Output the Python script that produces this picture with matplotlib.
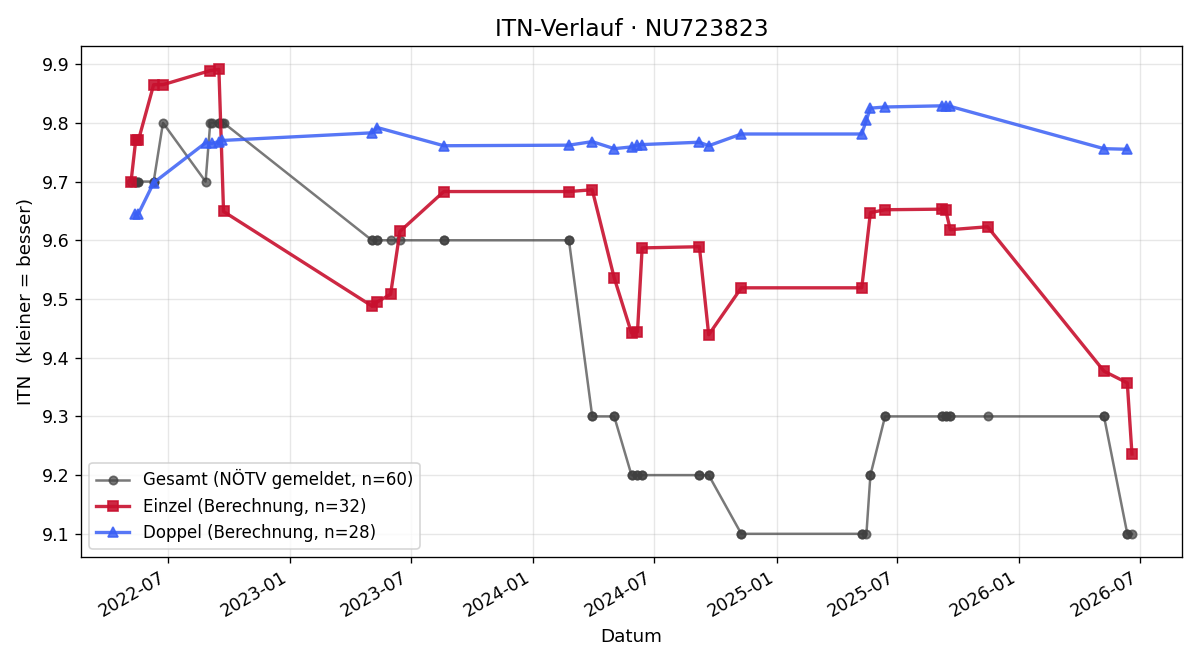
import numpy as np
import pandas as pd
import matplotlib
matplotlib.use("Agg")
import matplotlib.pyplot as plt
import matplotlib.dates as mdates

# Einzel (calculated singles rating)
einzel_dates = [
    "2022-05-07", "2022-05-14", "2022-05-18", "2022-06-10", "2022-06-24",
    "2022-09-03", "2022-09-16", "2022-09-23",
    "2023-05-04", "2023-05-12", "2023-06-01", "2023-06-15", "2023-08-20",
    "2024-02-24", "2024-03-30", "2024-05-02", "2024-05-28", "2024-06-06",
    "2024-06-13", "2024-09-07", "2024-09-21", "2024-11-09",
    "2025-05-09", "2025-05-22", "2025-06-13", "2025-09-06", "2025-09-12",
    "2025-09-19", "2025-11-14",
    "2026-05-08", "2026-06-12", "2026-06-19",
]
einzel_itn = [
    9.700, 9.770, 9.770, 9.865, 9.865,
    9.889, 9.891, 9.649,
    9.488, 9.495, 9.508, 9.615, 9.683,
    9.683, 9.686, 9.536, 9.442, 9.444,
    9.587, 9.589, 9.439, 9.519,
    9.519, 9.647, 9.652, 9.653, 9.652,
    9.618, 9.623,
    9.377, 9.357, 9.236,
]

# Doppel (calculated doubles rating)
doppel_dates = [
    "2022-05-13", "2022-05-18", "2022-06-10", "2022-08-27", "2022-09-05",
    "2022-09-16", "2022-09-21",
    "2023-05-04", "2023-05-12", "2023-08-20",
    "2024-02-24", "2024-03-30", "2024-05-02", "2024-05-28", "2024-06-06",
    "2024-06-13", "2024-09-07", "2024-09-21", "2024-11-09",
    "2025-05-09", "2025-05-16", "2025-05-22", "2025-06-13", "2025-09-06",
    "2025-09-12", "2025-09-19",
    "2026-05-08", "2026-06-12",
]
doppel_itn = [
    9.645, 9.645, 9.698, 9.766, 9.765,
    9.768, 9.770,
    9.783, 9.792, 9.761,
    9.762, 9.768, 9.756, 9.759, 9.762,
    9.763, 9.767, 9.761, 9.781,
    9.781, 9.805, 9.825, 9.827, 9.829,
    9.829, 9.828,
    9.756, 9.755,
]

# Gesamt (reported by NÖTV)
gesamt_dates = [
    "2022-05-07", "2022-05-13", "2022-05-14", "2022-05-18", "2022-05-18",
    "2022-06-10", "2022-06-10", "2022-06-24", "2022-08-27", "2022-09-03",
    "2022-09-05", "2022-09-16", "2022-09-16", "2022-09-21", "2022-09-23",
    "2023-05-04", "2023-05-04", "2023-05-12", "2023-05-12", "2023-06-01",
    "2023-06-15", "2023-08-20", "2023-08-20",
    "2024-02-24", "2024-02-24", "2024-03-30", "2024-03-30", "2024-05-02",
    "2024-05-02", "2024-05-28", "2024-05-28", "2024-06-06", "2024-06-06",
    "2024-06-13", "2024-06-13", "2024-09-07", "2024-09-07", "2024-09-21",
    "2024-09-21", "2024-11-09", "2024-11-09",
    "2025-05-09", "2025-05-09", "2025-05-16", "2025-05-22", "2025-05-22",
    "2025-06-13", "2025-06-13", "2025-09-06", "2025-09-06", "2025-09-12",
    "2025-09-12", "2025-09-19", "2025-09-19", "2025-11-14",
    "2026-05-08", "2026-05-08", "2026-06-12", "2026-06-12", "2026-06-19",
]
gesamt_itn = [
    9.7, 9.7, 9.7, 9.7, 9.7,
    9.7, 9.7, 9.8, 9.7, 9.8,
    9.8, 9.8, 9.8, 9.8, 9.8,
    9.6, 9.6, 9.6, 9.6, 9.6,
    9.6, 9.6, 9.6,
    9.6, 9.6, 9.3, 9.3, 9.3,
    9.3, 9.2, 9.2, 9.2, 9.2,
    9.2, 9.2, 9.2, 9.2, 9.2,
    9.2, 9.1, 9.1,
    9.1, 9.1, 9.1, 9.2, 9.2,
    9.3, 9.3, 9.3, 9.3, 9.3,
    9.3, 9.3, 9.3, 9.3,
    9.3, 9.3, 9.1, 9.1, 9.1,
]

fig, ax = plt.subplots(figsize=(10, 5.5), dpi=120)

ax.plot(pd.to_datetime(gesamt_dates), gesamt_itn, "-o", color="0.25", alpha=0.7,
        lw=1.5, ms=5, label=f"Gesamt (NÖTV gemeldet, n={len(gesamt_itn)})")
ax.plot(pd.to_datetime(einzel_dates), einzel_itn, "-s", color="#c8102e", alpha=0.9,
        lw=2, ms=6, label=f"Einzel (Berechnung, n={len(einzel_itn)})")
ax.plot(pd.to_datetime(doppel_dates), doppel_itn, "-^", color="#3a5ff5", alpha=0.85,
        lw=2, ms=6, label=f"Doppel (Berechnung, n={len(doppel_itn)})")

ax.xaxis.set_major_locator(mdates.MonthLocator(bymonth=[1, 7]))
ax.xaxis.set_major_formatter(mdates.DateFormatter("%Y-%m"))
ax.grid(True, alpha=0.3)

ax.set_title("ITN-Verlauf · NU723823", fontsize=14)
ax.set_xlabel("Datum", fontsize=11)
ax.set_ylabel("ITN  (kleiner = besser)", fontsize=11)
ax.tick_params(labelsize=10.5)
ax.legend(loc="lower left", fontsize=10)

fig.autofmt_xdate()
fig.subplots_adjust(left=0.0675, right=0.985, top=0.930, bottom=0.156)
fig.savefig("out.png", dpi=120)
